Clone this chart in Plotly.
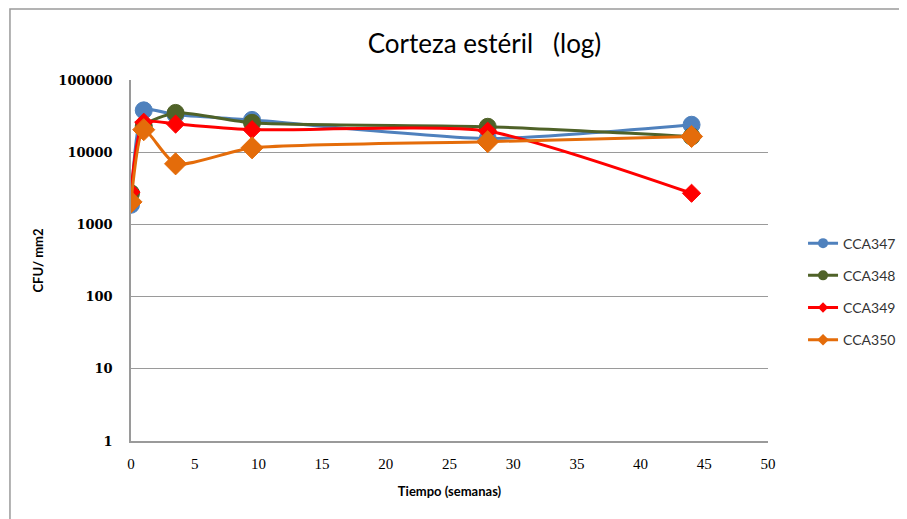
import plotly.graph_objects as go

# Tiempo (semanas)
weeks = [0, 1, 3.5, 9.5, 28, 44]

# CFU/mm2 por cepa
cca347 = [1870, 38000, 33000, 28000, 15500, 24000]
cca348 = [2700, 23000, 35000, 25500, 22500, 16500]
cca349 = [2800, 26000, 24500, 20500, 19500, 2700]
cca350 = [2050, 20500, 6900, 11500, 14000, 16500]

y_ticks = [1, 10, 100, 1000, 10000, 100000]
y_ticklabels = ["1", "10", "100", "1000", "10000", "100000"]

series = {
    "CCA347": (cca347, "#4F81BD", "circle", 17, 10),
    "CCA348": (cca348, "#4F6228", "circle", 17, 10),
    "CCA349": (cca349, "#FF0000", "diamond", 14, 8),
    "CCA350": (cca350, "#E46C0A", "diamond", 17, 9),
}

fig = go.Figure()

for name, (vals, colour, symbol, size, legend_size) in series.items():
    fig.add_trace(
        go.Scatter(
            x=weeks,
            y=vals,
            name=name,
            mode="lines+markers",
            line=dict(color=colour, width=3, shape="spline", smoothing=0.6),
            marker=dict(symbol=symbol, size=size, color=colour,
                        line=dict(color=colour, width=1)),
            legendgroup=name,
            showlegend=False,
        )
    )
    # legend entry with the smaller marker used in the key
    fig.add_trace(
        go.Scatter(
            x=[None],
            y=[None],
            name=name,
            mode="lines+markers",
            line=dict(color=colour, width=3),
            marker=dict(symbol=symbol, size=legend_size, color=colour),
            legendgroup=name,
        )
    )

# Update layout (page body adds an 8px margin, so the figure is 8px smaller)
fig.update_layout(
    width=899,
    height=511,
    margin=dict(l=123, r=139, t=72, b=78, autoexpand=False),
    paper_bgcolor="white",
    plot_bgcolor="white",
    title=dict(
        text="Corteza estéril   (log)",
        x=0.53, xanchor="center",
        y=0.93, yanchor="middle",
        font=dict(family="Lato", size=26, color="black"),
    ),
    showlegend=True,
    legend=dict(
        x=1.055, xanchor="left",
        y=0.414, yanchor="middle",
        font=dict(family="Lato", size=14, color="#333333"),
        tracegroupgap=11,
        itemwidth=30,
        bgcolor="rgba(0,0,0,0)",
    ),
    font=dict(family="Lato", color="black"),
)

# Outer chart frame
fig.add_shape(
    type="rect", xref="paper", yref="paper",
    x0=-0.19, x1=1.6, y0=-0.6, y1=1.197,
    line=dict(color="#9A9A9A", width=1.5),
    layer="below",
)

# Update axes
fig.update_xaxes(
    range=[0, 50], dtick=5, tick0=0,
    showgrid=False, showline=True, linecolor="#9A9A9A", linewidth=1.5,
    zeroline=False, ticks="", ticklabelstandoff=8,
    tickfont=dict(family="Liberation Serif", size=15, color="black"),
    title=dict(text="<b>Tiempo (semanas)</b>", standoff=16,
               font=dict(family="Lato", size=13, color="black")),
)

fig.update_yaxes(
    type="log", range=[0, 5],
    tickvals=y_ticks, ticktext=["<b>%s</b>" % t for t in y_ticklabels],
    showgrid=True, gridcolor="#9A9A9A", gridwidth=1,
    showline=True, linecolor="#9A9A9A", linewidth=1.5,
    zeroline=False, ticks="", ticklabelstandoff=14,
    tickfont=dict(family="DejaVu Serif", size=13, color="black"),
    title=dict(text="<b>CFU/ mm2</b>", standoff=12,
               font=dict(family="Lato", size=13, color="black")),
)

fig.write_html("out.html")
